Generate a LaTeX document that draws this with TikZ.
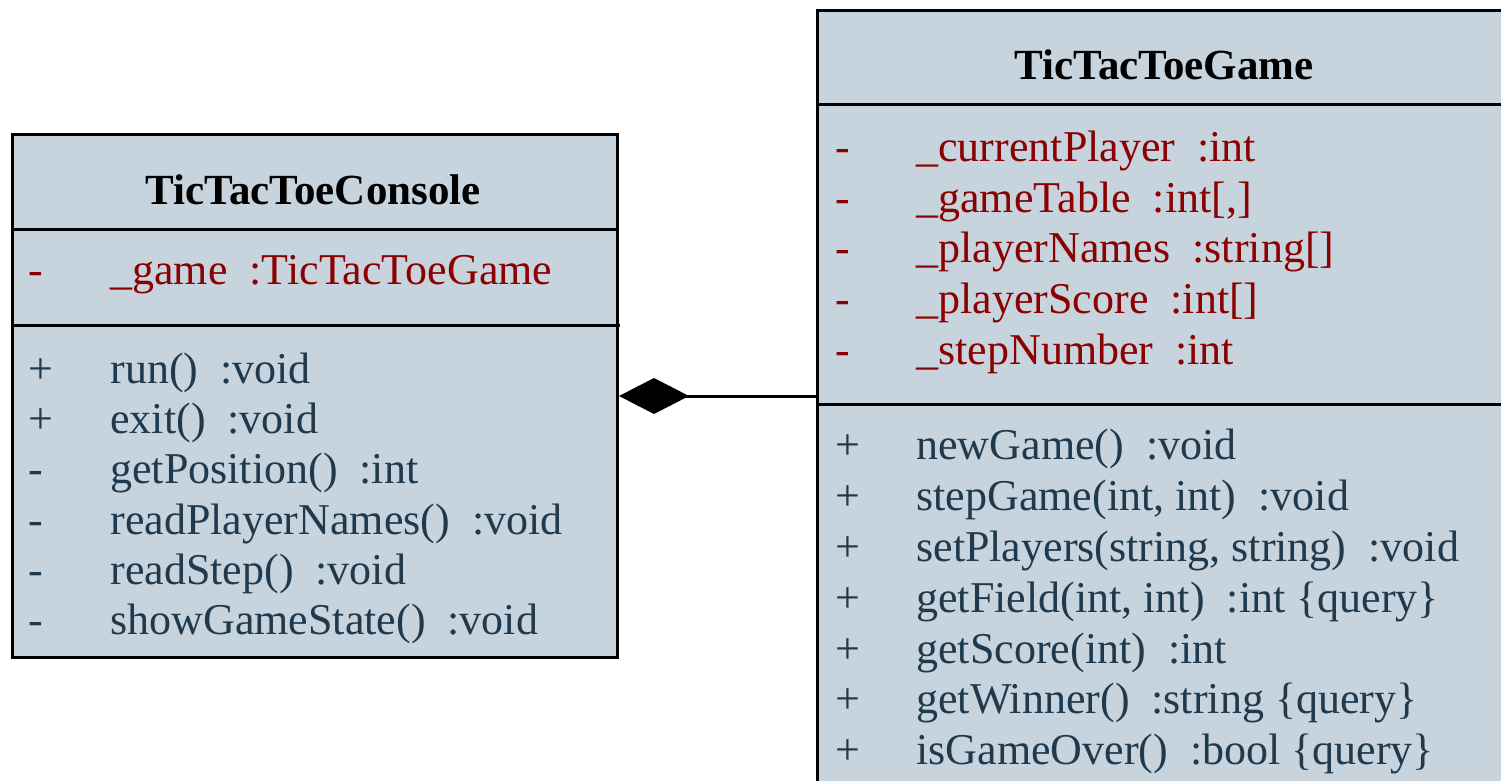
\documentclass[tikz,border=0pt]{standalone}
\usepackage{fontspec}
\setmainfont{Liberation Serif}
\usetikzlibrary{arrows.meta}

\definecolor{boxfill}{RGB}{199,212,221}
\definecolor{opcol}{RGB}{31,58,78}
\definecolor{attrcol}{RGB}{139,0,0}

\tikzset{
    classbox/.style={draw=black, line width=1.5pt, fill=boxfill, rectangle, inner sep=0pt},
    divider/.style={line width=1.5pt},
    member/.style={anchor=base west, inner sep=0pt, font=\fontsize{22}{25}\selectfont},
    attr/.style={member, text=attrcol},
    oper/.style={member, text=opcol},
    title/.style={anchor=base, inner sep=0pt, font=\fontsize{21.5}{25}\selectfont\bfseries},
}

\begin{document}
\begin{tikzpicture}[x=0.5pt, y=-0.5pt]
        \useasboundingbox (0,0) rectangle (1501,781);
        \clip (0,0) rectangle (1501,781);

        %% console class
        \node[classbox, anchor=north west, minimum width=302.5pt, minimum height=261.5pt] (console) at (11,133) {};
        \draw[divider] (11,230) -- (616,230);
        \draw[divider] (11,325) -- (620,325);

        \node[title] (consoleTitle) at (313,205) {TicTacToeConsole};

        \node[attr] (cAttrV) at (28,285) {-};
        \node[attr] (cAttr) at (110,285) {\_game\ \ :TicTacToeGame};

        \node[oper] (cOpV1) at (28,383) {+};
            \node[oper] (cOp1) at (110,383) {run()\ \ :void};
        \node[oper] (cOpV2) at (28,433) {+};
            \node[oper] (cOp2) at (110,433) {exit()\ \ :void};
        \node[oper] (cOpV3) at (28,483) {-};
            \node[oper] (cOp3) at (110,483) {getPosition()\ \ :int};
        \node[oper] (cOpV4) at (28,534) {-};
            \node[oper] (cOp4) at (110,534) {readPlayerNames()\ \ :void};
        \node[oper] (cOpV5) at (28,584) {-};
            \node[oper] (cOp5) at (110,584) {readStep()\ \ :void};
        \node[oper] (cOpV6) at (28,634) {-};
            \node[oper] (cOp6) at (110,634) {showGameState()\ \ :void};

        %% game class
        \node[classbox, anchor=north west, minimum width=350pt, minimum height=392pt] (game) at (816,9) {};
        \draw[divider] (816,105) -- (1520,105);
        \draw[divider] (816,404) -- (1520,404);

        \node[title] (gameTitle) at (1164,80) {TicTacToeGame};

        \node[attr] (gAttrV1) at (835,162) {-};
            \node[attr] (gAttr1) at (916,162) {\_currentPlayer\ \ :int};
        \node[attr] (gAttrV2) at (835,213) {-};
            \node[attr] (gAttr2) at (916,213) {\_gameTable\ \ :int[,]};
        \node[attr] (gAttrV3) at (835,263) {-};
            \node[attr] (gAttr3) at (916,263) {\_playerNames\ \ :string[]};
        \node[attr] (gAttrV4) at (835,314) {-};
            \node[attr] (gAttr4) at (916,314) {\_playerScore\ \ :int[]};
        \node[attr] (gAttrV5) at (835,364) {-};
            \node[attr] (gAttr5) at (916,364) {\_stepNumber\ \ :int};

        \node[oper] (gOpV1) at (835,459) {+};
            \node[oper] (gOp1) at (916,459) {newGame()\ \ :void};
        \node[oper] (gOpV2) at (835,510) {+};
            \node[oper] (gOp2) at (916,510) {stepGame(int, int)\ \ :void};
        \node[oper] (gOpV3) at (835,561) {+};
            \node[oper] (gOp3) at (916,561) {setPlayers(string, string)\ \ :void};
        \node[oper] (gOpV4) at (835,612) {+};
            \node[oper] (gOp4) at (916,612) {getField(int, int)\ \ :int \{query\}};
        \node[oper] (gOpV5) at (835,663) {+};
            \node[oper] (gOp5) at (916,663) {getScore(int)\ \ :int};
        \node[oper] (gOpV6) at (835,713) {+};
            \node[oper] (gOp6) at (916,713) {getWinner()\ \ :string \{query\}};
        \node[oper] (gOpV7) at (835,764) {+};
            \node[oper] (gOp7) at (916,764) {isGameOver()\ \ :bool \{query\}};

        %% composition
        \draw[line width=1.5pt, -{Diamond[length=35pt, width=18pt]}] (game.west |- 0,396) -- (console.east |- 0,396);

\end{tikzpicture}
\end{document}
